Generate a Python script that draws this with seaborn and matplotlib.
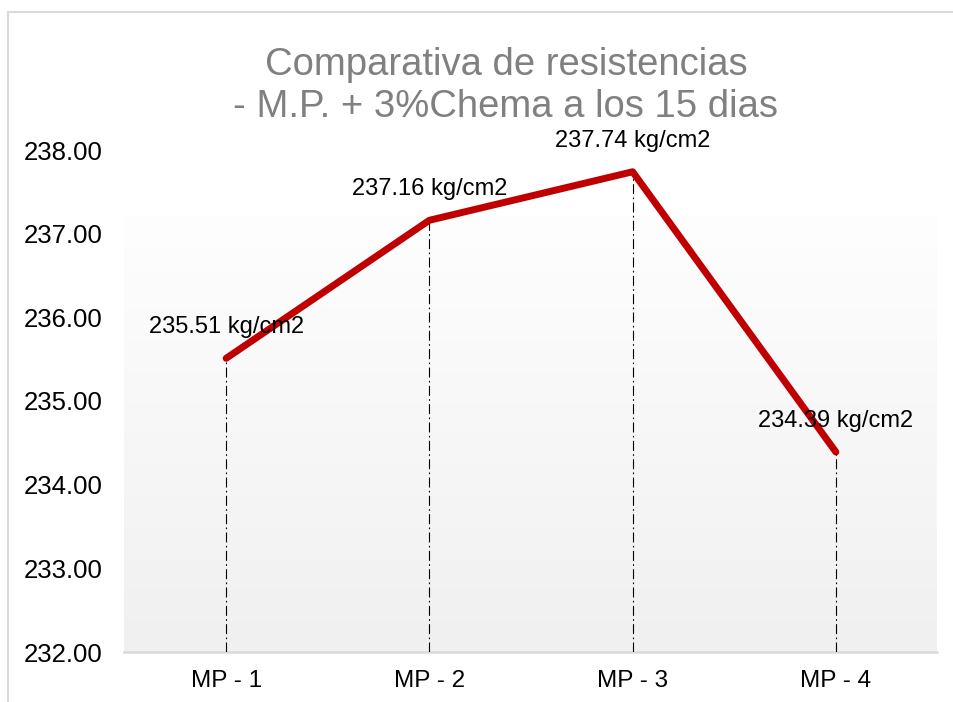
import numpy as np
import pandas as pd
import matplotlib
matplotlib.use("Agg")
import matplotlib.pyplot as plt
from matplotlib.patches import Rectangle
import seaborn as sns

# Resistance values per specimen (kg/cm2)
muestras = ["MP - 1", "MP - 2", "MP - 3", "MP - 4"]
resistencias = [235.51, 237.16, 237.74, 234.39]
y_ticks = [232.0, 233.0, 234.0, 235.0, 236.0, 237.0, 238.0]
titulo = "Comparativa de resistencias\n- M.P. + 3%Chema a los 15 dias"
unidad = "kg/cm2"

sns.set_theme(style="white")
plt.rcParams["font.family"] = ["Liberation Sans", "DejaVu Sans"]

W, H = 954, 702
fig = plt.figure(figsize=(W / 100, H / 100), dpi=100)
fig.patch.set_facecolor("white")

# outer chart frame (open on the right and bottom)
fig.add_artist(Rectangle((8.5 / W, -0.05), 1.1, (H - 11.5) / H + 0.05,
                         transform=fig.transFigure, fill=False,
                         edgecolor="#d9d9d9", linewidth=1.5))

left, right = 124.5 / W, 937.5 / W
bottom, top = 1 - 652 / H, 1 - 150 / H
ax = fig.add_axes([left, bottom, right - left, top - bottom])
ax.set_facecolor("none")

df = pd.DataFrame({"muestra": muestras, "resistencia": resistencias})

ax.set_xlim(-0.5, len(muestras) - 0.5)
ax.set_ylim(y_ticks[0], y_ticks[-1])

# soft vertical gradient in the plot area
grad_top = y_ticks[-1] - (215 - 150) / (502 / (y_ticks[-1] - y_ticks[0]))
g = np.linspace(0, 1, 256).reshape(-1, 1)
top_c = np.array([254, 254, 254]) / 255
bot_c = np.array([240, 240, 240]) / 255
img = top_c[None, None, :] * (1 - g[..., None]) + bot_c[None, None, :] * g[..., None]
ax.imshow(img, extent=[-0.5, len(muestras) - 0.5, y_ticks[0], grad_top],
          aspect="auto", zorder=0, origin="upper")

# drop lines
ax.vlines(range(len(muestras)), y_ticks[0], resistencias, colors="black",
          linewidth=0.8, linestyles=(0, (9, 3, 1.5, 3)), zorder=2)

sns.lineplot(data=df, x="muestra", y="resistencia", ax=ax, color="#c00000",
             linewidth=5, solid_capstyle="round", zorder=3, sort=False)

for i, v in enumerate(resistencias):
    ax.annotate(f"{v:.2f} {unidad}", (i, v), xytext=(0, 31),
                textcoords="offset pixels", ha="center", va="center",
                fontsize=17, color="black", zorder=4)

ax.set_yticks(y_ticks)
ax.set_yticklabels([f"{t:.2f}" for t in y_ticks], fontsize=18.5, color="black")
ax.set_xticks(range(len(muestras)))
ax.set_xticklabels(muestras, fontsize=17.5, color="black")
ax.tick_params(axis="y", length=0, pad=16)
ax.tick_params(axis="x", length=0, pad=13)
ax.set_xlabel("")
ax.set_ylabel("")
ax.grid(False)

for s in ["top", "right", "left"]:
    ax.spines[s].set_visible(False)
ax.spines["bottom"].set_color("#d9d9d9")
ax.spines["bottom"].set_linewidth(1.8)
ax.spines["bottom"].set_zorder(1)

fig.text(506 / W, 1 - 86 / H, titulo, ha="center", va="center",
         fontsize=27.5, color="#808080", linespacing=1.2)

fig.savefig("out.png", dpi=100)
